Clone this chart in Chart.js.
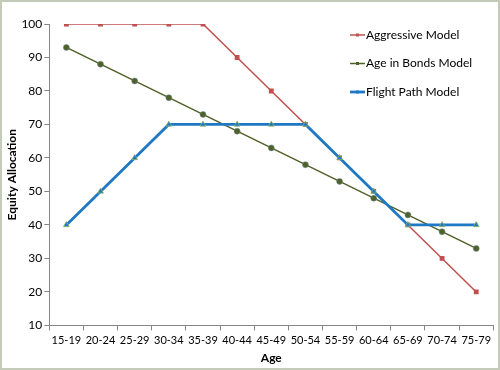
<!DOCTYPE html>
<html>
<head>
<meta charset="utf-8">
<script src="https://cdn.jsdelivr.net/npm/chart.js@4/dist/chart.umd.min.js"></script>
<style>
  html, body { margin: 0; padding: 0; background: #fff; }
  #wrap { position: relative; width: 496px; height: 366px; border: 2px solid #c4cbb9; }
</style>
</head>
<body>
<div id="wrap"><canvas id="equityChart" width="496" height="366"></canvas></div>
<script>
const ageGroups = ['15-19','20-24','25-29','30-34','35-39','40-44','45-49','50-54','55-59','60-64','65-69','70-74','75-79'];
const aggressive = [100, 100, 100, 100, 100, 90, 80, 70, 60, 50, 40, 30, 20];
const ageInBonds = [93, 88, 83, 78, 73, 68, 63, 58, 53, 48, 43, 38, 33];
const flightPath = [40, 50, 60, 70, 70, 70, 70, 70, 60, 50, 40, 40, 40];

const fontFamily = 'Lato, "Open Sans", sans-serif';

// legend drawn inside the plot, vertical like the original
const insideLegend = {
  id: 'insideLegend',
  afterDraw(chart) {
    const ctx = chart.ctx;
    const x = 348, y0 = 33, gap = 28.5;
    ctx.save();
    ctx.font = '12px ' + fontFamily;
    ctx.textBaseline = 'middle';
    chart.data.datasets.forEach((ds, i) => {
      const y = y0 + i * gap;
      ctx.strokeStyle = ds.borderColor;
      ctx.lineWidth = ds.borderWidth;
      ctx.beginPath();
      ctx.moveTo(x, y);
      ctx.lineTo(x + 15, y);
      ctx.stroke();
      ctx.fillStyle = ds.pointBackgroundColor;
      ctx.fillRect(x + 6, y - 1.5, 3, 3);
      ctx.fillStyle = '#000';
      ctx.fillText(ds.label, x + 16, y);
    });
    ctx.restore();
  }
};

const axisColor = '#868686';
new Chart(document.getElementById('equityChart').getContext('2d'), {
  type: 'line',
  data: {
    labels: ageGroups,
    datasets: [{
      label: 'Aggressive Model',
      data: aggressive,
      order: 3,
      borderColor: '#c0504d',
      backgroundColor: '#c0504d',
      pointBackgroundColor: '#c0504d',
      pointBorderColor: '#c0504d',
      borderWidth: 1.5,
      pointStyle: 'rect',
      pointRadius: 3.4,
      pointBorderWidth: 0,
      tension: 0
    }, {
      label: 'Age in Bonds Model',
      data: ageInBonds,
      order: 2,
      borderColor: '#4f6228',
      backgroundColor: '#4f6228',
      pointBackgroundColor: '#4f6228',
      pointBorderColor: '#6f8a9a',
      pointBorderWidth: 0.5,
      borderWidth: 1.5,
      pointStyle: 'circle',
      pointRadius: 3,
      tension: 0
    }, {
      label: 'Flight Path Model',
      data: flightPath,
      order: 1,
      borderColor: '#1f78c3',
      backgroundColor: '#1f78c3',
      pointBackgroundColor: '#1f78c3',
      pointBorderColor: '#9bbb59',
      pointBorderWidth: 0.7,
      borderWidth: 2.8,
      pointStyle: 'triangle',
      pointRadius: 3.4,
      tension: 0
    }]
  },
  options: {
    responsive: false,
    animation: false,
    layout: { padding: { left: 3, right: 2, top: 22, bottom: 3 } },
    plugins: {
      legend: { display: false },
      tooltip: { enabled: false }
    },
    scales: {
      x: {
        offset: true,
        grid: { drawOnChartArea: false, drawTicks: true, tickLength: 5, color: axisColor, offset: true },
        border: { color: axisColor },
        ticks: { color: '#000', font: { family: fontFamily, size: 11 }, maxRotation: 0, autoSkip: false, padding: 3 },
        title: { display: true, text: 'Age', color: '#000', font: { family: fontFamily, size: 12, weight: 'bold' }, padding: { top: 1, bottom: 0 } }
      },
      y: {
        min: 10,
        max: 100,
        ticks: { stepSize: 10, color: '#000', font: { family: fontFamily, size: 12 }, padding: 2 },
        grid: { drawOnChartArea: false, drawTicks: true, tickLength: 5, color: axisColor },
        border: { color: axisColor },
        title: { display: true, text: 'Equity Allocation', color: '#000', font: { family: fontFamily, size: 12, weight: 'bold' }, padding: { top: 0, bottom: 0 } }
      }
    }
  },
  plugins: [insideLegend]
});
</script>
</body>
</html>
